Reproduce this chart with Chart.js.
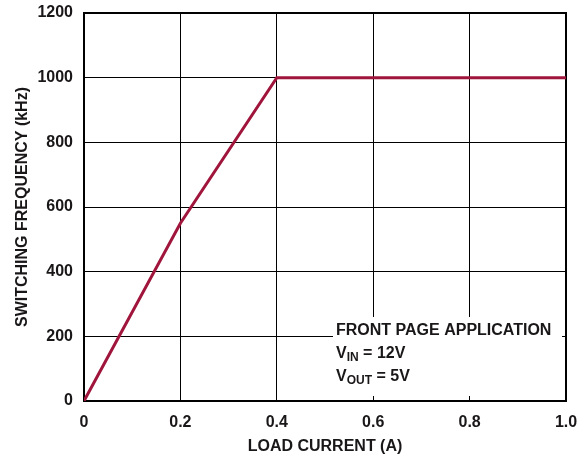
<!DOCTYPE html>
<html>
<head>
<meta charset="utf-8">
<script src="https://cdn.jsdelivr.net/npm/chart.js@4/dist/chart.umd.min.js"></script>
<style>
  html, body { margin: 0; padding: 0; background: #fff; }
  canvas { display: block; }
</style>
</head>
<body>
<canvas id="freqChart" width="586" height="459"></canvas>
<script>
// Switching frequency vs load current
const loadCurrent = [0, 0.2, 0.4, 1.0];          // A
const switchingFreq = [0, 550, 1000, 1000];     // kHz
const xTicks = [0, 0.2, 0.4, 0.6, 0.8, 1.0];
const yTicks = [0, 200, 400, 600, 800, 1000, 1200];

const FONT = '"Liberation Sans", Arial, Helvetica, sans-serif';
const LINE_COLOR = '#a0153b';
const TEXT_COLOR = '#1a1718';

// White panel with the test conditions, plus the heavy frame round the plot
const framePlugin = {
    id: 'frame',
    beforeDatasetsDraw(chart) {
        const { ctx, chartArea: a } = chart;
        ctx.save();
        ctx.fillStyle = '#fff';
        ctx.fillRect(333, 317, 229, 79);
        ctx.strokeStyle = '#000';
        ctx.lineWidth = 2;
        ctx.strokeRect(a.left, a.top, a.right - a.left, a.bottom - a.top);
        ctx.restore();
    },
    afterDraw(chart) {
        const ctx = chart.ctx;
        ctx.save();
        ctx.fillStyle = TEXT_COLOR;
        ctx.textBaseline = 'middle';
        ctx.textAlign = 'left';
        const big = 'bold 16px ' + FONT;
        const small = 'bold 12px ' + FONT;
        const x0 = 336;

        ctx.font = big;
        ctx.fillText('FRONT PAGE APPLICATION', x0, 331);

        const sub = (main, subText, rest, y) => {
            ctx.font = big;
            ctx.fillText(main, x0, y);
            let x = x0 + ctx.measureText(main).width;
            ctx.font = small;
            ctx.fillText(subText, x, y + 4);
            x += ctx.measureText(subText).width;
            ctx.font = big;
            ctx.fillText(rest, x, y);
        };
        sub('V', 'IN', ' = 12V', 354);
        sub('V', 'OUT', ' = 5V', 377);
        ctx.restore();
    }
};

new Chart(document.getElementById('freqChart'), {
    type: 'line',
    data: {
        datasets: [{
            data: loadCurrent.map((x, i) => ({ x: x, y: switchingFreq[i] })),
            borderColor: LINE_COLOR,
            borderWidth: 3,
            pointRadius: 0,
            tension: 0,
            fill: false
        }]
    },
    options: {
        responsive: false,
        animation: false,
        layout: { padding: { top: 13, right: 20, left: 0, bottom: 0 } },
        plugins: {
            legend: { display: false },
            tooltip: { enabled: false }
        },
        scales: {
            x: {
                type: 'linear',
                min: 0,
                max: 1.0,
                afterFit(scale) {
                    scale.height = 58;
                    scale.paddingLeft = 0;
                    scale.paddingRight = 0;
                },
                afterBuildTicks(scale) { scale.ticks = xTicks.map(v => ({ value: v })); },
                grid: { color: '#000', lineWidth: 1, drawTicks: false, tickLength: 0 },
                border: { display: false },
                ticks: {
                    padding: 12,
                    color: TEXT_COLOR,
                    font: { family: FONT, size: 16, weight: 'bold' },
                    callback: v => v === 0 ? '0' : v.toFixed(1)
                },
                title: {
                    display: true,
                    text: 'LOAD CURRENT (A)',
                    color: TEXT_COLOR,
                    font: { family: FONT, size: 16, weight: 'bold' },
                    padding: { top: 0, bottom: 3 }
                }
            },
            y: {
                min: 0,
                max: 1200,
                afterFit(scale) {
                    scale.width = 84;
                    scale.paddingTop = 0;
                    scale.paddingBottom = 0;
                },
                afterBuildTicks(scale) { scale.ticks = yTicks.map(v => ({ value: v })); },
                grid: { color: '#000', lineWidth: 1, drawTicks: false, tickLength: 0 },
                border: { display: false },
                ticks: {
                    padding: 11,
                    color: TEXT_COLOR,
                    font: { family: FONT, size: 16, weight: 'bold' },
                    callback: v => String(v)
                },
                title: {
                    display: true,
                    text: 'SWITCHING FREQUENCY (kHz)',
                    color: TEXT_COLOR,
                    font: { family: FONT, size: 16, weight: 'bold' },
                    padding: { top: 13, bottom: 0 }
                }
            }
        }
    },
    plugins: [framePlugin]
});
</script>
</body>
</html>
